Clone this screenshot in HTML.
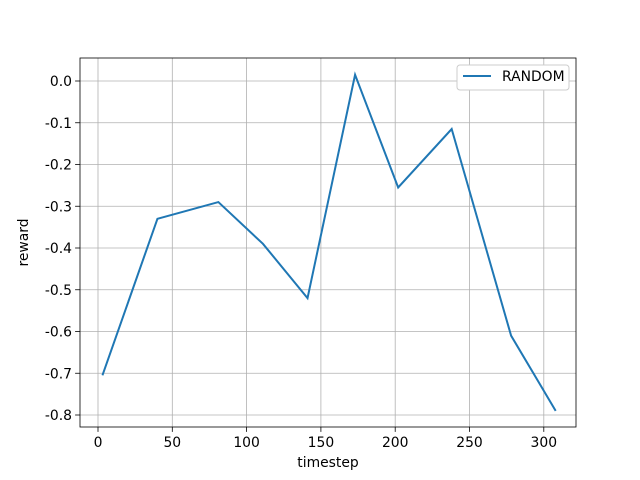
<!DOCTYPE html>
<html><head><meta charset="utf-8"><style>body{margin:0;background:#fff}svg{display:block;font-family:"DejaVu Sans","Liberation Sans",sans-serif}</style></head>
<body>
<svg id="chart" width="640" height="480"></svg>
<script>
const xValues=[3,40,81,111,141,173,202,238,278,308];
const rewardValues=[-0.705,-0.33,-0.29,-0.39,-0.52,0.015,-0.255,-0.115,-0.61,-0.79];
const xTicks=[0,50,100,150,200,250,300];
const yTicks=[0.0,-0.1,-0.2,-0.3,-0.4,-0.5,-0.6,-0.7,-0.8];
const seriesName="RANDOM";
const NS="http://www.w3.org/2000/svg";
const svg=document.getElementById('chart');
const L=80,R=576,T=58,B=427;
const FS=13.9;
const xs=v=>98+v*(74.3/50);
const ys=v=>81-v*417.5;
function mk(t,a,p){const e=document.createElementNS(NS,t);for(const k in a)e.setAttribute(k,a[k]);(p||svg).appendChild(e);return e;}
xTicks.forEach(t=>{const x=xs(t);
 const g=mk('line',{x1:x,x2:x,y1:T,y2:B,stroke:'#b0b0b0','stroke-width':0.8});
 
 
 mk('line',{x1:x,x2:x,y1:B,y2:B+4.9,stroke:'#000','stroke-width':0.8});
 const tx=mk('text',{x:x,y:B+20,'text-anchor':'middle','font-size':FS});tx.textContent=t;
 
 
});
yTicks.forEach(t=>{const y=ys(t);
 const g=mk('line',{x1:L,x2:R,y1:y,y2:y,stroke:'#b0b0b0','stroke-width':0.8});
 
 
 mk('line',{x1:L-4.9,x2:L,y1:y,y2:y,stroke:'#000','stroke-width':0.8});
 const tx=mk('text',{x:L-8,y:y+5,'text-anchor':'end','font-size':FS});tx.textContent=t.toFixed(1);
 
 
});
const pl=mk('polyline',{points:xValues.map((v,i)=>xs(v)+','+ys(rewardValues[i])).join(' '),fill:'none',stroke:'#1f77b4','stroke-width':2});


const fr=mk('rect',{x:L,y:T,width:R-L,height:B-T,fill:'none',stroke:'#000','stroke-width':0.8});


const xl=mk('text',{x:(L+R)/2,y:467,'text-anchor':'middle','font-size':FS});xl.textContent='timestep';


const yl=mk('text',{x:0,y:0,'text-anchor':'middle','font-size':FS,transform:'translate(28,'+((T+B)/2)+') rotate(-90)'});yl.textContent='reward';


const lg=mk('g',{});


mk('rect',{x:457,y:65,width:112,height:25,rx:3,fill:'#fff',stroke:'#ccc','stroke-width':1},lg);
const ll=mk('line',{x1:463,x2:491,y1:76,y2:76,stroke:'#1f77b4','stroke-width':2},lg);


const lt=mk('text',{x:502,y:81,'font-size':FS},lg);lt.textContent=seriesName;


</script>
</body></html>
